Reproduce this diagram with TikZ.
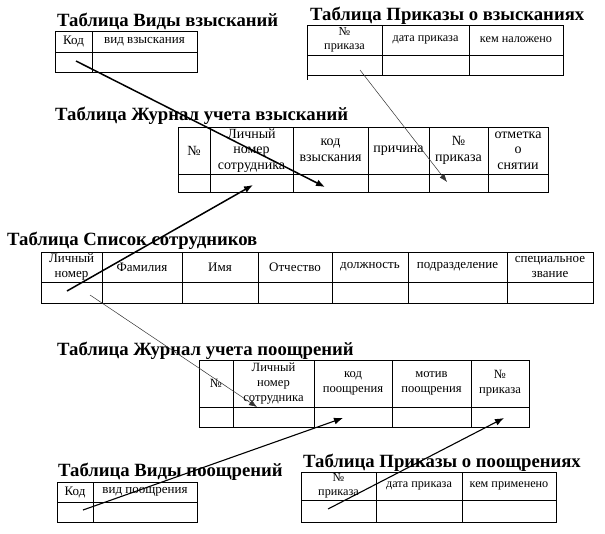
\documentclass[tikz,border=0pt]{standalone}
\usepackage{fontspec}
\setmainfont{Liberation Serif}
\usetikzlibrary{arrows.meta}
\tikzset{
  tab/.style={draw=black, line width=1pt},
  txt/.style 2 args={inner sep=0pt, align=center, font=\fontsize{#1}{#2}\selectfont},
  fa/.style={txt={13}{15}},
  fb/.style={txt={12.2}{13.5}},
  fc/.style={txt={14}{15.5}},
  fd/.style={txt={12.6}{15}},
  ttl/.style={inner sep=0pt, anchor=base west, font=\fontsize{18.7}{21}\selectfont\bfseries},
  thick link/.style={line width=1.5pt, -{Latex[length=9pt,width=7pt]}},
  mid link/.style={line width=1.1pt, -{Latex[length=9pt,width=7pt]}},
  thin link/.style={line width=0.5pt, draw=black!80, -{Latex[length=8pt,width=6pt]}},
}
% #1 name, #2 x1, #3 x2, #4 ytop, #5 ymid, #6 ybot, #7 style, #8 text
\newcommand\hcell[8]{%
  \draw[tab] (#2,#4) rectangle (#3,#5);
  \draw[tab] (#2,#5) rectangle (#3,#6);
  \node[#7] (#1) at ({(#2+#3)/2},{(#4+#5)/2}) {#8};
}
\begin{document}
\begin{tikzpicture}[x=1pt,y=-1pt]
\useasboundingbox (0,0) rectangle (605,533);
\fill[white] (0,0) rectangle (605,533);

% Table Виды взысканий
\node[ttl] (t1) at (57,26) {Таблица Виды взысканий};
\hcell{vv1}{55}{92}{31}{52}{72}{fa}{Код}
\hcell{vv2}{92}{197}{31}{52}{72}{fa}{вид взыскания}

% Table Приказы о взысканиях
\node[ttl] (t2) at (310,20) {Таблица Приказы о взысканиях};
\hcell{pv1}{307}{382}{25}{55}{75}{fb}{№\\приказа}
\hcell{pv2}{382}{469}{25}{55}{75}{fb}{дата приказа}
\hcell{pv3}{469}{563}{25}{55}{75}{fb}{кем наложено}
\draw[line width=0.8pt] (307,75) -- (307,80);

% Table Журнал учета взысканий
\node[ttl] (t3) at (55,120) {Таблица Журнал учета взысканий};
\hcell{jv1}{178}{210}{127}{174}{192}{fc}{№}
\hcell{jv2}{210}{293}{127}{174}{192}{fc}{Личный\\номер\\сотрудника}
\hcell{jv3}{293}{368}{127}{174}{192}{fc}{код\\взыскания}
\hcell{jv4}{368}{429}{127}{174}{192}{fc}{причина}
\hcell{jv5}{429}{488}{127}{174}{192}{fc}{№\\приказа}
\hcell{jv6}{488}{548}{127}{174}{192}{fc}{отметка\\о\\снятии}

% Table Список сотрудников
\node[ttl] (t4) at (7,245) {Таблица Список сотрудников};
\hcell{ss1}{41}{102}{252}{282}{303}{fa}{Личный\\номер}
\hcell{ss2}{102}{182}{252}{282}{303}{fa}{Фамилия}
\hcell{ss3}{182}{258}{252}{282}{303}{fa}{Имя}
\hcell{ss4}{258}{332}{252}{282}{303}{fa}{Отчество}
\hcell{ss5}{332}{408}{252}{282}{303}{fa}{должность}
\hcell{ss6}{408}{507}{252}{282}{303}{fa}{подразделение}
\hcell{ss7}{507}{593}{252}{282}{303}{fa}{специальное\\звание}

% Table Журнал учета поощрений
\node[ttl] (t5) at (57,355) {Таблица Журнал учета поощрений};
\hcell{jp1}{199}{233}{360}{407}{427}{fd}{№}
\hcell{jp2}{233}{314}{360}{407}{427}{fd}{Личный\\номер\\сотрудника}
\hcell{jp3}{314}{392}{360}{407}{427}{fd}{код\\поощрения}
\hcell{jp4}{392}{471}{360}{407}{427}{fd}{мотив\\поощрения}
\hcell{jp5}{471}{529}{360}{407}{427}{fd}{№\\приказа}

% Table Виды поощрений
\node[ttl] (t6) at (58,476) {Таблица Виды поощрений};
\hcell{vp1}{57}{93}{482}{502}{522}{fa}{Код}
\hcell{vp2}{93}{197}{482}{502}{522}{fa}{вид поощрения}

% Table Приказы о поощрениях
\node[ttl] (t7) at (303,467) {Таблица Приказы о поощрениях};
\hcell{pp1}{301}{376}{472}{500}{522}{fb}{№\\приказа}
\hcell{pp2}{376}{462}{472}{500}{522}{fb}{дата приказа}
\hcell{pp3}{462}{556}{472}{500}{522}{fb}{кем применено}

% link end points
\coordinate (a1s) at (76,61);   \coordinate (a1e) at (325,187);
\coordinate (a2s) at (360,70);  \coordinate (a2e) at (447,182);
\coordinate (a3s) at (67,291);  \coordinate (a3e) at (253,185);
\coordinate (a4s) at (90,295);  \coordinate (a4e) at (257,407);
\coordinate (a5s) at (83,510);  \coordinate (a5e) at (343,418);
\coordinate (a6s) at (328,509); \coordinate (a6e) at (504,418);

\draw[thick link] (a1s) -- (a1e);
\draw[thin link] (a2s) -- (a2e);
\draw[thick link] (a3s) -- (a3e);
\draw[thin link] (a4s) -- (a4e);
\draw[mid link] (a5s) -- (a5e);
\draw[mid link] (a6s) -- (a6e);
\end{tikzpicture}
\end{document}
